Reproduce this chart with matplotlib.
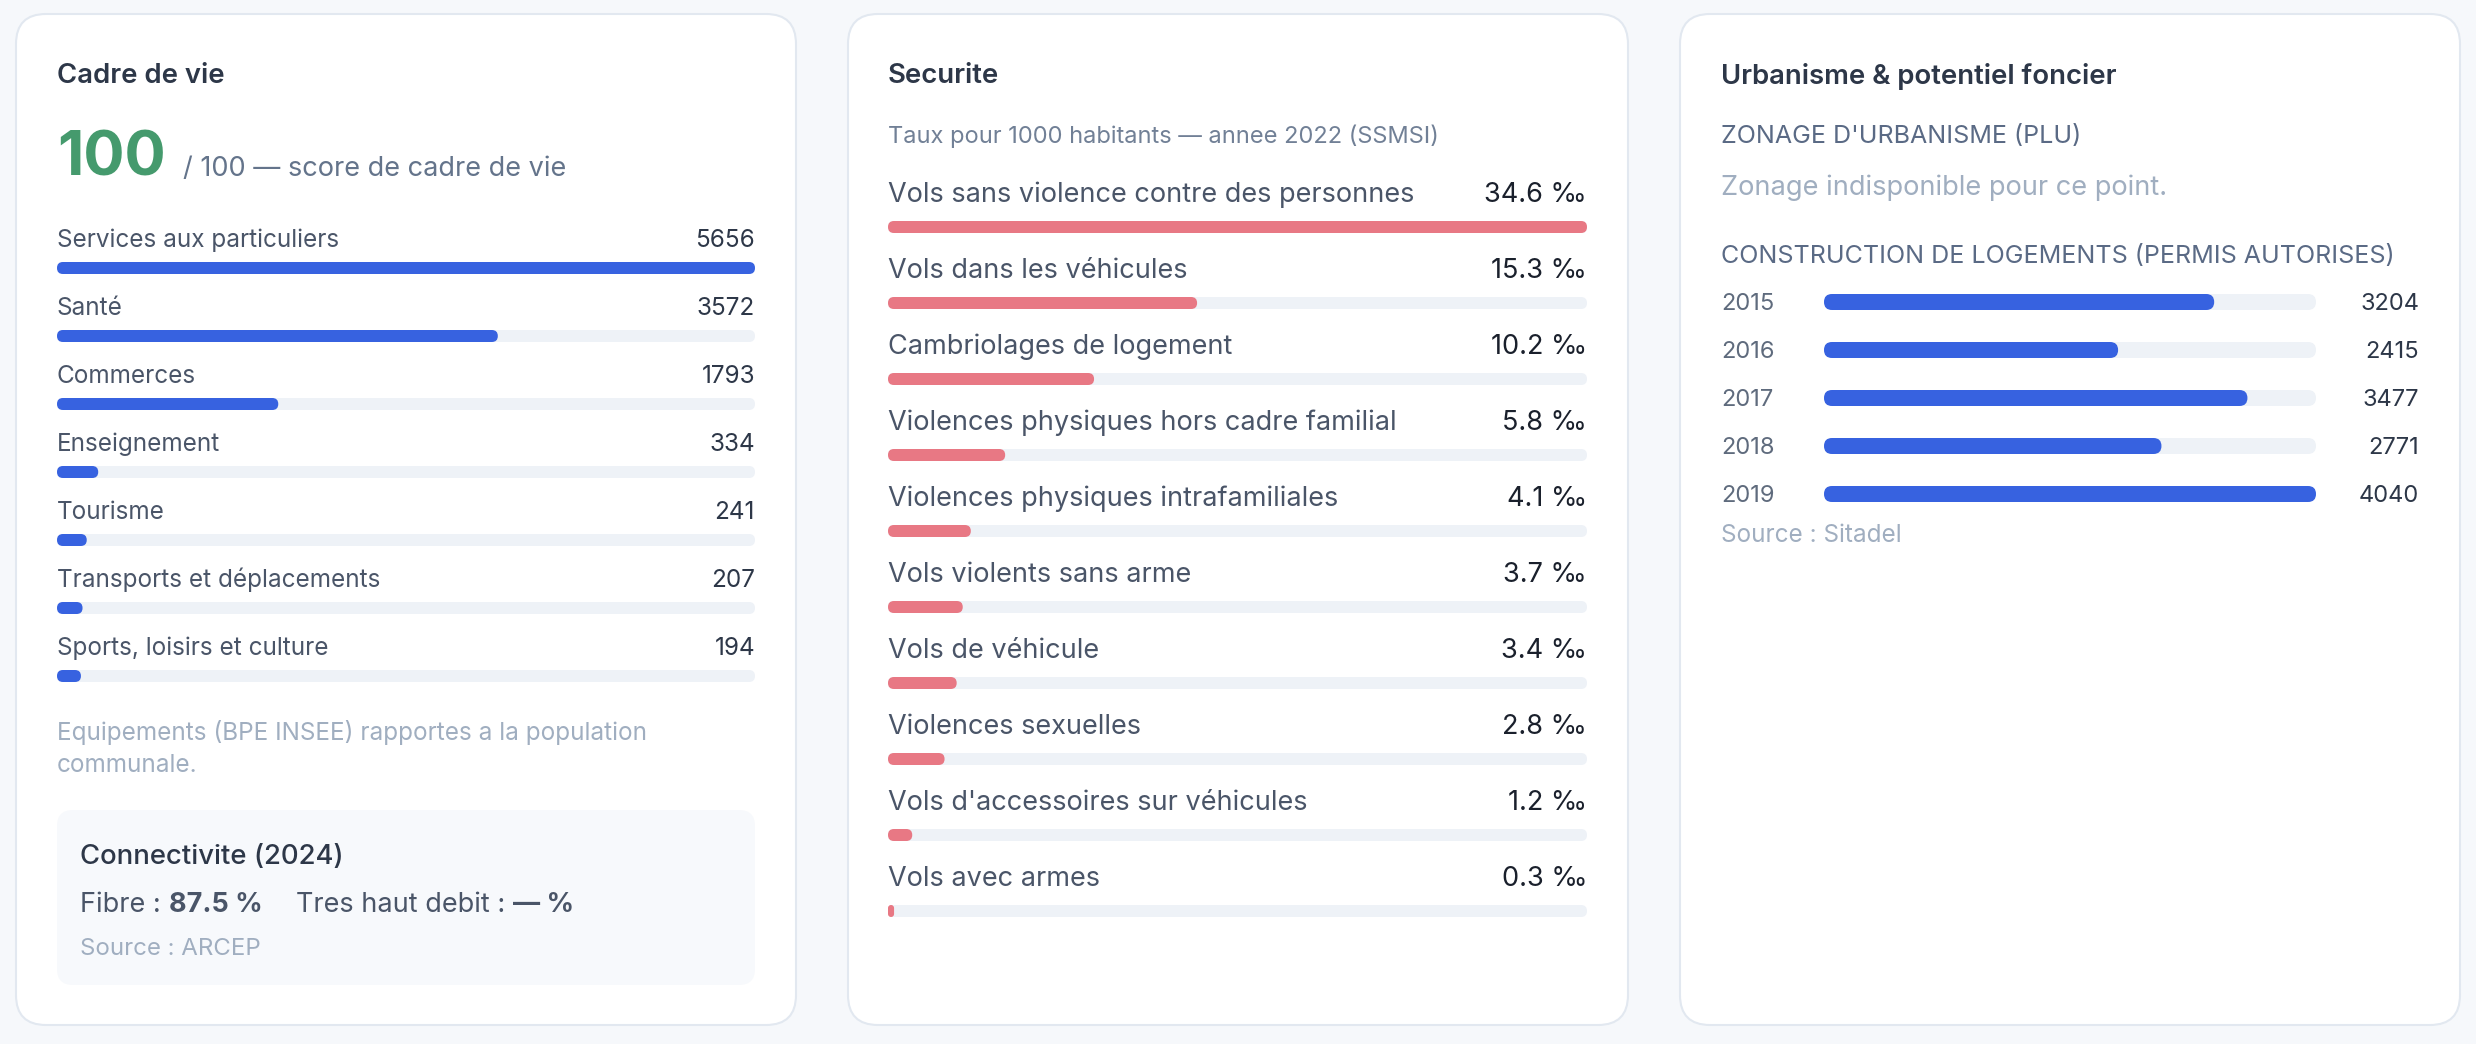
import matplotlib
matplotlib.use("Agg")
import matplotlib.pyplot as plt
from matplotlib.patches import FancyBboxPatch

plt.rcParams['font.family'] = ['Inter', 'DejaVu Sans']

# ---- data -------------------------------------------------------------
cadre_labels = ["Services aux particuliers", "Santé", "Commerces", "Enseignement",
                "Tourisme", "Transports et déplacements", "Sports, loisirs et culture"]
cadre_values = [5656, 3572, 1793, 334, 241, 207, 194]
cadre_score = 100

secu_labels = ["Vols sans violence contre des personnes", "Vols dans les véhicules",
               "Cambriolages de logement", "Violences physiques hors cadre familial",
               "Violences physiques intrafamiliales", "Vols violents sans arme",
               "Vols de véhicule", "Violences sexuelles",
               "Vols d'accessoires sur véhicules", "Vols avec armes"]
secu_values = [34.6, 15.3, 10.2, 5.8, 4.1, 3.7, 3.4, 2.8, 1.2, 0.3]

permis_years = ["2015", "2016", "2017", "2018", "2019"]
permis_values = [3204, 2415, 3477, 2771, 4040]

fibre_pct = 87.5

# ---- style ------------------------------------------------------------
BG = "#f6f8fb"
BORDER = "#e2e8f0"
TITLE = "#2d3748"
LABEL = "#4a5568"
MUTED = "#718096"
LIGHT = "#a0aec0"
TRACK = "#eef2f7"
BLUE = "#3762e0"
RED = "#e87884"
GREEN = "#459a6d"

W, H = 2476, 1044
fig = plt.figure(figsize=(W / 100, H / 100), dpi=100, facecolor=BG)
bg = fig.add_axes([0, 0, 1, 1])
bg.set_xlim(0, W)
bg.set_ylim(H, 0)
bg.axis("off")
renderer = fig.canvas.get_renderer()


def card(x0, y0, x1, y1, fc="white", ec=BORDER, r=30, lw=1.5):
    bg.add_patch(FancyBboxPatch((x0, y0), x1 - x0, y1 - y0,
                                boxstyle=f"round,pad=0,rounding_size={r}",
                                fc=fc, ec=ec, lw=lw))


def txt(x, y, s, size, color, weight="normal", ha="left", va="baseline"):
    return bg.text(x, y, s, fontsize=size, color=color, fontweight=weight, ha=ha, va=va)


def chain(x, y, parts, size, color):
    # write pieces one after the other on the same baseline
    for s, weight, gap in parts:
        t = txt(x, y, s, size, color, weight)
        x = t.get_window_extent(renderer).x1 + gap


def bar_panel(x0, x1, y_first, step, n, vmax, bar_h):
    top = y_first - step / 2
    bottom = y_first + step * (n - 0.5)
    a = fig.add_axes([x0 / W, 1 - bottom / H, (x1 - x0) / W, (bottom - top) / H])
    a.set_xlim(0, vmax)
    a.set_ylim(n - 0.5, -0.5)
    a.axis("off")
    px_x = (x1 - x0) / vmax
    a._pill = dict(h=bar_h / step, r=(bar_h / 2) / px_x, asp=px_x / step)
    return a


def pill(a, y, v, color):
    p = a._pill
    rr = min(p["r"], v / 2)
    a.add_patch(FancyBboxPatch((0, y - p["h"] / 2), v, p["h"],
                               boxstyle=f"round,pad=0,rounding_size={rr}",
                               mutation_aspect=p["asp"], fc=color, ec="none",
                               clip_on=False))


# ---- cards --------------------------------------------------------------
for cx0, cx1 in [(16, 796), (848, 1628), (1680, 2460)]:
    card(cx0, 14, cx1, 1025)

# card 1 : cadre de vie
txt(57, 83, "Cadre de vie", 19.8, TITLE, "semibold")
txt(57, 176, f"{cadre_score}", 44, GREEN, "bold")
txt(183, 176, "/ 100 — score de cadre de vie", 19.5, "#64748b")

a1 = bar_panel(57, 755, 268, 68, len(cadre_values), max(cadre_values), 12)
for i, (lab, v) in enumerate(zip(cadre_labels, cadre_values)):
    pill(a1, i, max(cadre_values), TRACK)
    pill(a1, i, v, BLUE)
    a1.text(0, i - 21 / 68, lab, fontsize=17.5, color=LABEL, va="baseline")
    a1.text(max(cadre_values), i - 21 / 68, f"{v}", fontsize=17.5, color=TITLE,
            va="baseline", ha="right")

txt(57, 740, "Equipements (BPE INSEE) rapportes a la population", 17.5, LIGHT)
txt(57, 772, "communale.", 17.5, LIGHT)

card(57, 810, 755, 985, fc="#f7f9fc", ec="none", r=16, lw=0)
txt(80, 864, "Connectivite (2024)", 19.8, TITLE, "medium")
chain(80, 912, [("Fibre :", "normal", 8), (f"{fibre_pct} %", "bold", 33),
                ("Tres haut debit :", "normal", 8), ("— %", "bold", 0)],
      19.5, LABEL)
txt(80, 955, "Source : ARCEP", 17.3, LIGHT)

# card 2 : securite
txt(888, 83, "Securite", 19.8, TITLE, "semibold")
txt(888, 143, "Taux pour 1000 habitants — annee 2022 (SSMSI)", 17, MUTED)

a2 = bar_panel(888, 1587, 227, 76, len(secu_values), max(secu_values), 12)
for i, (lab, v) in enumerate(zip(secu_labels, secu_values)):
    pill(a2, i, max(secu_values), TRACK)
    pill(a2, i, v, RED)
    a2.text(0, i - 25 / 76, lab, fontsize=19.5, color=LABEL, va="baseline")
    a2.text(max(secu_values), i - 25 / 76, f"{v:.1f} ‰", fontsize=19.5,
            color="#1a202c", va="baseline", ha="right")

# card 3 : urbanisme
txt(1721, 84, "Urbanisme & potentiel foncier", 19.8, TITLE, "semibold")
txt(1721, 143.5, "ZONAGE D'URBANISME (PLU)", 18, "#5a6a85")
txt(1721, 195, "Zonage indisponible pour ce point.", 19.6, LIGHT)
txt(1721, 263.5, "CONSTRUCTION DE LOGEMENTS (PERMIS AUTORISES)", 18, "#5a6a85")

a3 = bar_panel(1824, 2316, 302, 48, len(permis_values), max(permis_values), 16)
for i, (yr, v) in enumerate(zip(permis_years, permis_values)):
    pill(a3, i, max(permis_values), TRACK)
    pill(a3, i, v, BLUE)
    a3.text((1721 - 1824) / 492, i, yr, fontsize=17, color="#5f6b7d",
            va="center_baseline", transform=a3.get_yaxis_transform())
    a3.text((2419 - 1824) / 492, i, f"{v}", fontsize=17, color=TITLE,
            va="center_baseline", ha="right", transform=a3.get_yaxis_transform())

txt(1721, 542, "Source : Sitadel", 17.5, LIGHT)

fig.savefig("out.png", dpi=100, facecolor=BG)
